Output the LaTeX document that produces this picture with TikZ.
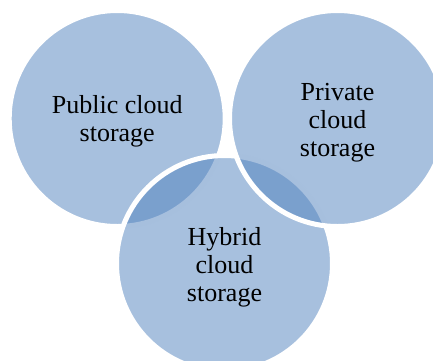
\documentclass[tikz,border=0pt]{standalone}
\usepackage{fontspec}
\setmainfont{Liberation Serif}
\definecolor{bleu}{RGB}{79,129,189}
\begin{document}
\begin{tikzpicture}[x=1pt,y=-1pt,
  bulle/.style={circle,draw=white,line width=5pt,fill=bleu,fill opacity=0.5,minimum size=216pt},
  texte/.style={align=center,font=\fontsize{26}{28}\selectfont}]
\useasboundingbox (0,0) rectangle (433,360);
\clip (0,0) rectangle (433,360);
\node[bulle] (public) at (117.2,118.5) {};
\node[bulle] (hybrid) at (224.5,263.5) {};
\node[bulle] (private) at (337.5,118.5) {};
\node[texte] at ([yshift=-3pt]public.center) {Public cloud\\storage};
\node[texte] at ([yshift=-4pt]hybrid.center) {Hybrid\\cloud\\storage};
\node[texte] at ([yshift=-4pt]private.center) {Private\\cloud\\storage};
\end{tikzpicture}
\end{document}
